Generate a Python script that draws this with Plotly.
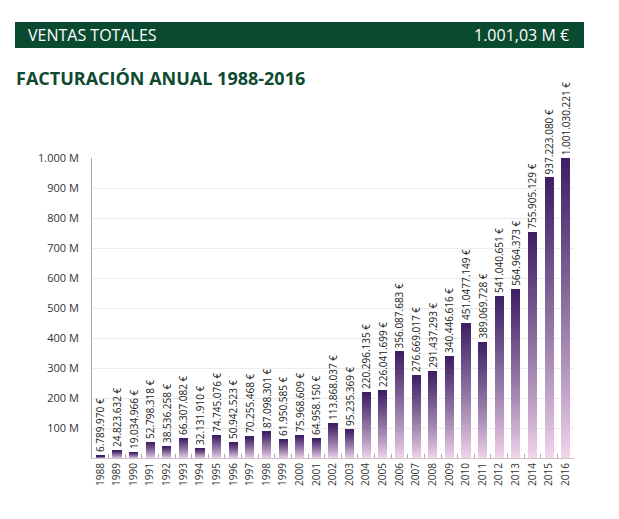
import plotly.graph_objects as go

years = [str(y) for y in range(1988, 2017)]
values = [6789970, 24823632, 19034966, 52798318, 38536258, 66307082, 32131910,
          74745076, 50942523, 70255468, 87098301, 61950585, 75968609, 64958150,
          113868037, 95235369, 220296135, 226041699, 356087683, 276669017,
          291437293, 340446616, 451047149, 389069728, 541040651, 564964373,
          755905129, 937223080, 1001030221]
labels = ["6.789.970 €", "24.823.632 €", "19.034.966 €", "52.798.318 €", "38.536.258 €",
          "66.307.082 €", "32.131.910 €", "74.745.076 €", "50.942.523 €", "70.255.468 €",
          "87.098.301 €", "61.950.585 €", "75.968.609 €", "64.958.150 €", "113.868.037 €",
          "95.235.369 €", "220.296.135 €", "226.041.699 €", "356.087.683 €", "276.669.017 €",
          "291.437.293 €", "340.446.616 €", "451.0477.149 €", "389.069.728 €", "541.040.651 €",
          "564.964.373 €", "755.905.129 €", "937.223.080 €", "1.001.030.221 €"]
ytick_vals = [100e6, 200e6, 300e6, 400e6, 500e6, 600e6, 700e6, 800e6, 900e6, 1000e6]
ytick_text = ["100 M", "200 M", "300 M", "400 M", "500 M", "600 M", "700 M", "800 M", "900 M", "1.000 M"]

FONT = "Open Sans"
N = 60
bottom_rgb = (244, 216, 238)
top_rgb = (62, 30, 100)

fig = go.Figure()
for k in range(N):
    t = ((k + 0.5) / N) ** 0.85
    c = tuple(round(bottom_rgb[i] + (top_rgb[i] - bottom_rgb[i]) * t) for i in range(3))
    last = k == N - 1
    fig.add_trace(go.Bar(
        x=years, y=[v / N for v in values],
        marker=dict(color="rgb(%d,%d,%d)" % c, line=dict(width=0)),
        text=labels if last else None,
        textposition="outside" if last else "none",
        textangle=-90,
        constraintext="none",
        textfont=dict(size=10, color="#222", family=FONT),
        cliponaxis=False,
        hoverinfo="skip",
        showlegend=False,
    ))

OFF = 8  # page body margin
W, H = 619 - 2 * OFF, 519 - 2 * OFF
PL, PR, PT, PB = 92, 574, 158, 458
L, R, T, B = PL - OFF, (W + OFF) - PR, PT - OFF, (H + OFF) - PB
pw, ph = PR - PL, PB - PT

def px(x):
    return (x - PL) / pw

def py(y):
    return (PB - y) / ph

fig.add_shape(type="rect", xref="paper", yref="paper",
              x0=px(15), x1=px(584), y0=py(48), y1=py(22),
              fillcolor="#0a4a31", line=dict(width=0), layer="above")
fig.add_annotation(xref="paper", yref="paper", x=px(26), y=py(35), xanchor="left", yanchor="middle",
                   text="VENTAS TOTALES", showarrow=False,
                   font=dict(family=FONT, size=16, color="white"))
fig.add_annotation(xref="paper", yref="paper", x=px(571), y=py(35), xanchor="right", yanchor="middle",
                   text="1.001,03 M €", showarrow=False,
                   font=dict(family=FONT, size=16, color="white"))
fig.add_annotation(xref="paper", yref="paper", x=px(14), y=py(78), xanchor="left", yanchor="middle",
                   text="<b>FACTURACIÓN ANUAL 1988-2016</b>", showarrow=False,
                   font=dict(family=FONT, size=18, color="#0d4a30"))

fig.update_layout(
    width=W, height=H, barmode="stack", bargap=0.45,
    margin=dict(l=L, r=R, t=T, b=B, pad=0),
    paper_bgcolor="white", plot_bgcolor="white",
    font=dict(family=FONT, color="#333"),
    xaxis=dict(type="category", tickangle=-90, tickfont=dict(size=10, color="#333"),
               showline=True, linecolor="#c8c8c8", ticks="inside", ticklen=4,
               tickcolor="#aaa", tickson="boundaries", showgrid=False),
    yaxis=dict(range=[0, 1.002e9], tickvals=ytick_vals, ticktext=ytick_text,
               tickfont=dict(size=11, color="#333"), showline=True, linecolor="#aaa",
               gridcolor="#ececec", zeroline=False, ticks="", ticklabelstandoff=10),
)

fig.write_html("out.html")
